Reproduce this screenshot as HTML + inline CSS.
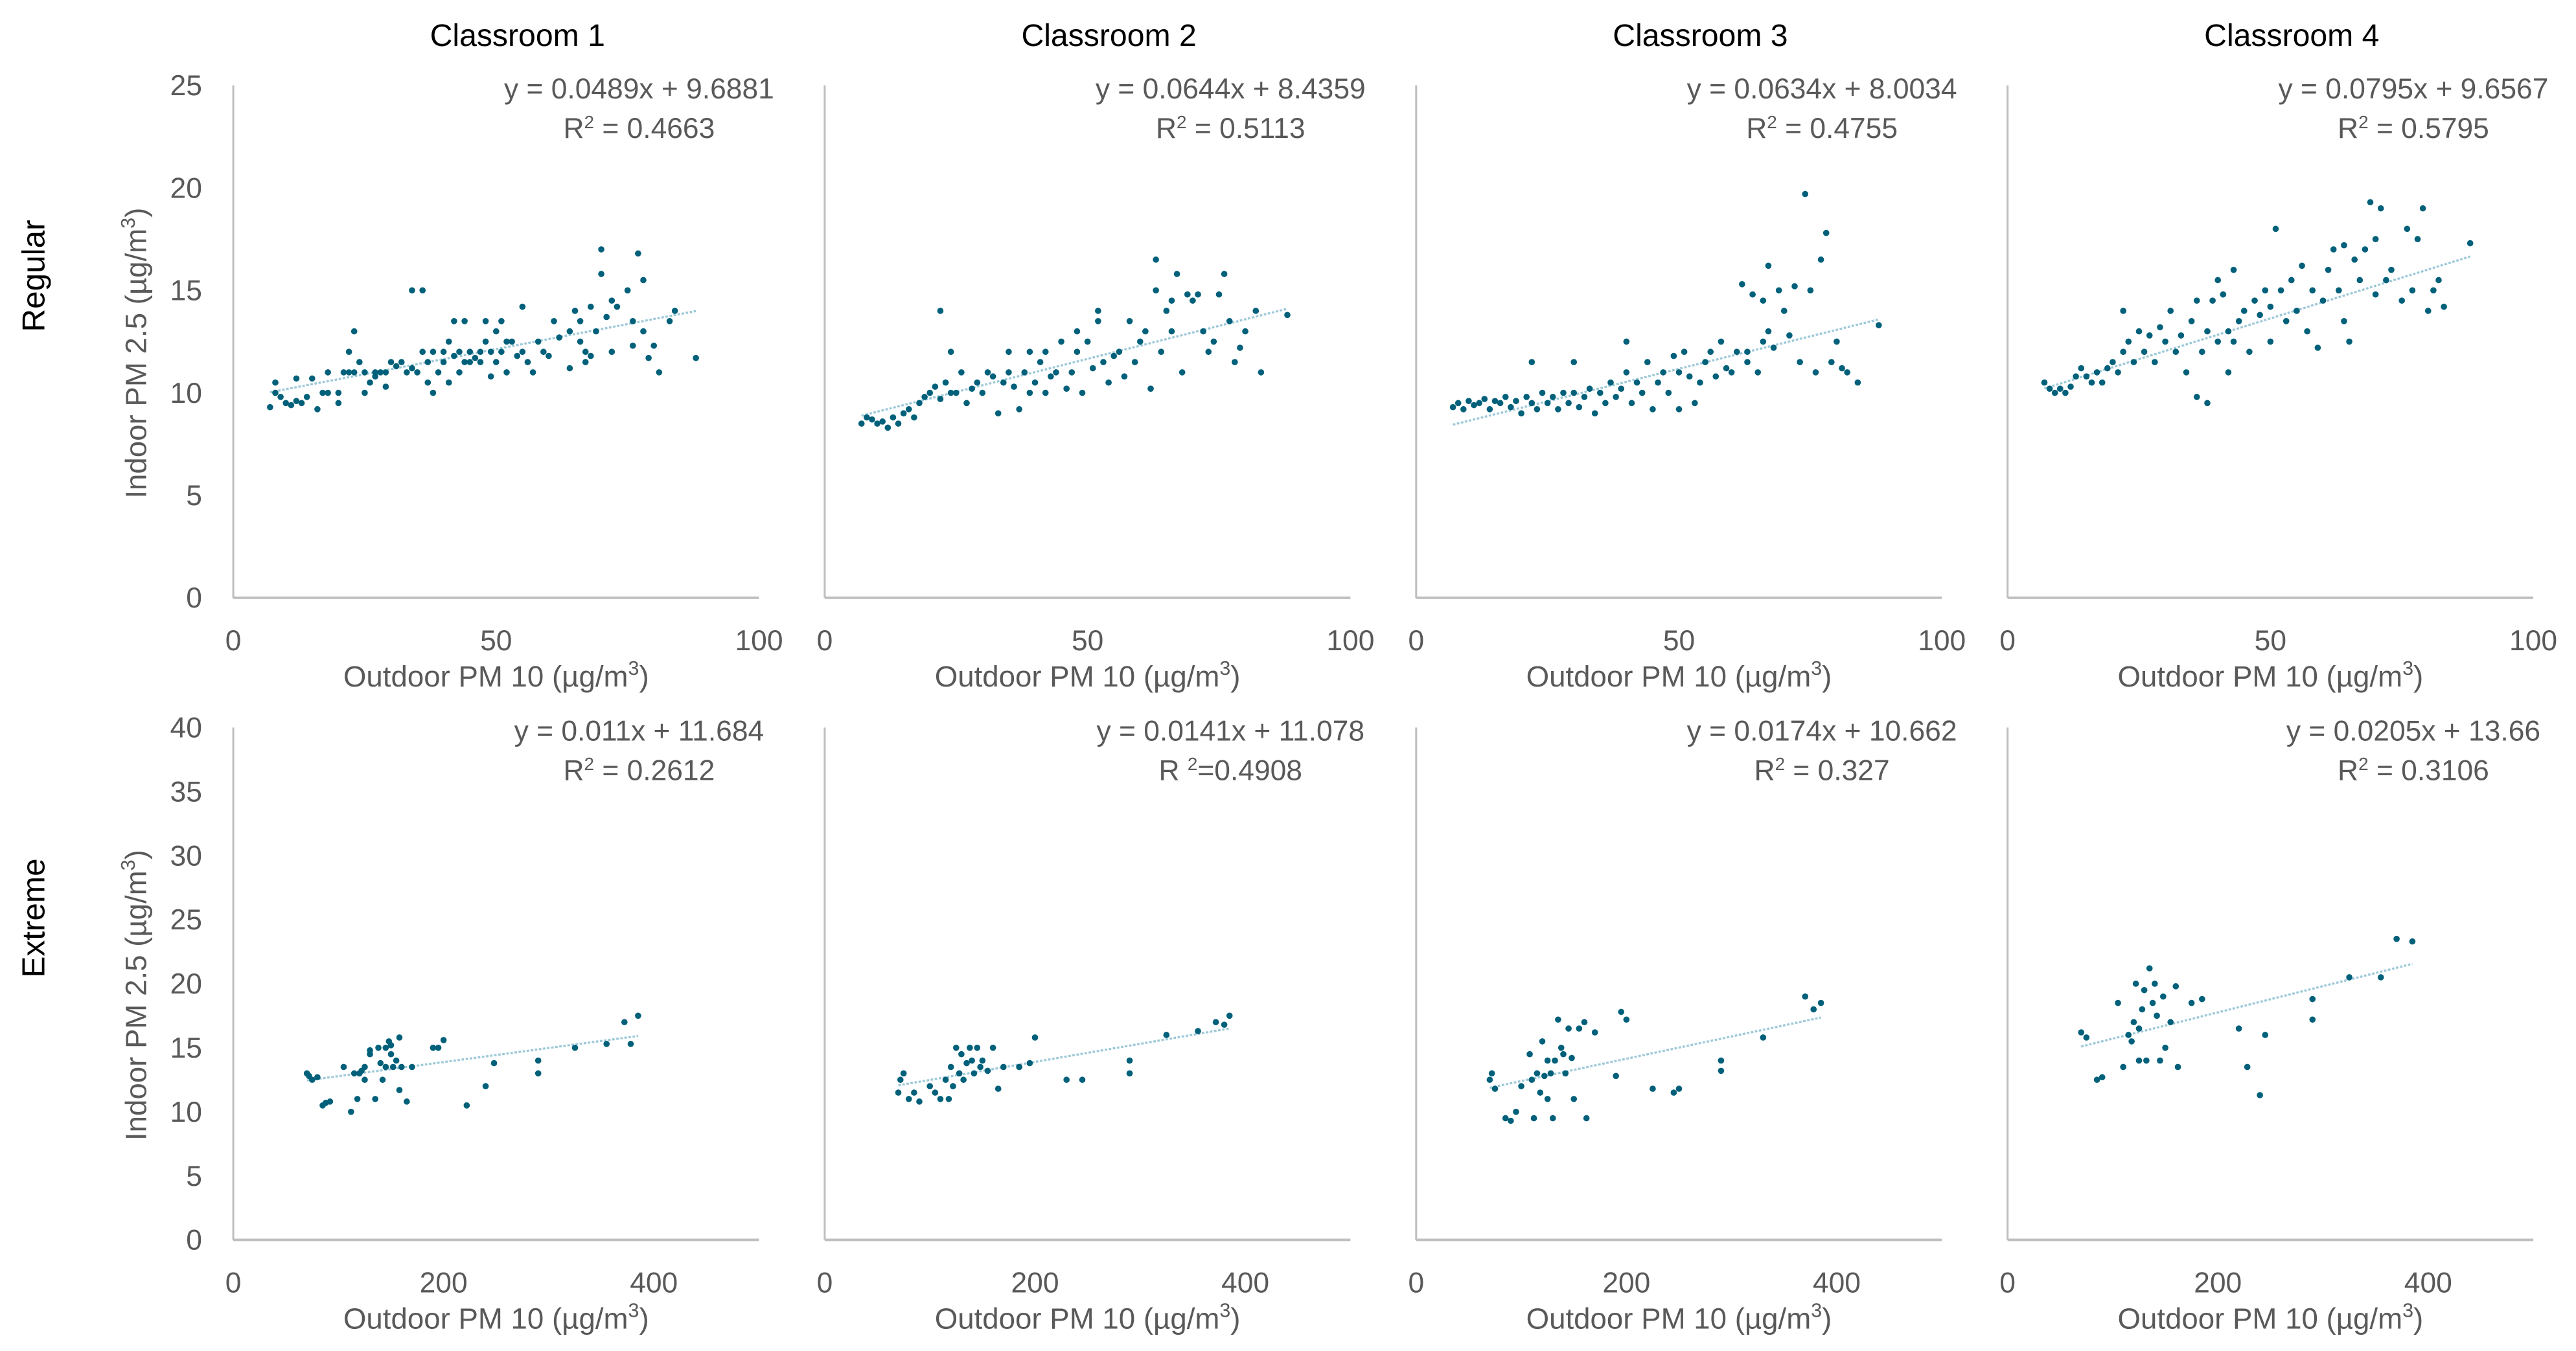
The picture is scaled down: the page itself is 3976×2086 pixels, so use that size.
<!DOCTYPE html>
<html><head><meta charset="utf-8"><style>
html,body{margin:0;padding:0;background:#fff;}
svg{display:block;}
text{font-family:"Liberation Sans",sans-serif;}
</style></head><body>
<svg id="chart" xmlns="http://www.w3.org/2000/svg" width="3976" height="2086" viewBox="0 0 1568 822.65">
<rect width="1568" height="822.65" fill="#fff"/>
<g id="layer"></g>
</svg>
<script>
const classrooms = ["Classroom 1","Classroom 2","Classroom 3","Classroom 4"];
const rowLabels = ["Regular","Extreme"];
const regYTicks = [0,5,10,15,20,25];
const extYTicks = [0,5,10,15,20,25,30,35,40];
const regXTicks = [0,50,100];
const extXTicks = [0,200,400];
const regSlope = [0.0489,0.0644,0.0634,0.0795];
const regIntercept = [9.6881,8.4359,8.0034,9.6567];
const extSlope = [0.011,0.0141,0.0174,0.0205];
const extIntercept = [11.684,11.078,10.662,13.66];
const regEq = ["y = 0.0489x + 9.6881","y = 0.0644x + 8.4359","y = 0.0634x + 8.0034","y = 0.0795x + 9.6567"];
const regR2 = ["0.4663","0.5113","0.4755","0.5795"];
const extEq = ["y = 0.011x + 11.684","y = 0.0141x + 11.078","y = 0.0174x + 10.662","y = 0.0205x + 13.66"];
const extR2 = ["0.2612","0.4908","0.327","0.3106"];

const c1Regular = [[7,9.3],[8,10.5],[8,10],[9,9.8],[10,9.5],[11,9.4],[12,9.6],[12,10.7],[13,9.5],[14,9.8],[15,10.7],[16,9.2],[17,10],[18,10],[18,11],[20,9.5],[20,10],[21,11],[22,12],[22,11],[23,11],[23,13],[24,11.5],[25,10],[25,11],[26,10.5],[27,11],[27,10.8],[28,11],[29,10.3],[29,11],[30,11.5],[31,11.3],[32,11.5],[33,11],[34,11.2],[34,15],[35,11],[36,15],[36,12],[37,10.5],[37,11.5],[38,12],[38,10],[39,11],[40,12],[40,11.5],[41,12.5],[41,10.5],[42,13.5],[42,11.8],[43,12],[43,11],[44,13.5],[44,11.5],[45,12],[45,11.5],[46,11.7],[47,12],[47,11.5],[48,12.5],[48,13.5],[49,12],[49,10.8],[50,13],[50,11.5],[51,13.5],[51,12],[52,11],[52,12.5],[53,12.5],[54,11.8],[55,14.2],[55,12],[56,11.5],[57,11],[58,12.5],[59,12],[60,11.8],[61,13.5],[62,12.7],[64,11.2],[64,13],[65,14],[66,12.5],[66,13.5],[67,11.5],[67,12],[68,14.2],[68,11.8],[69,13],[70,17],[70,15.8],[71,13.7],[72,14.5],[72,12],[73,14.2],[75,15],[76,13.5],[76,12.3],[77,16.8],[78,13],[78,15.5],[79,11.7],[80,12.3],[81,11],[83,13.5],[84,14],[88,11.7]];
const c2Regular = [[7,8.5],[8,8.8],[9,8.7],[10,8.5],[11,8.6],[12,8.3],[13,8.8],[14,8.5],[15,9],[16,9.2],[17,8.8],[18,9.5],[19,9.8],[20,10],[21,10.3],[22,14],[22,9.7],[23,10.5],[24,12],[24,10],[25,10],[26,11],[27,9.5],[28,10.2],[29,10.5],[30,10],[31,11],[32,10.8],[33,9],[34,10.5],[35,12],[35,11],[36,10.3],[37,9.2],[38,11],[39,12],[39,10],[40,10.5],[41,11.5],[42,12],[42,10],[43,10.8],[44,11],[45,12.5],[46,10.2],[47,11],[48,13],[48,12],[49,10],[50,12.5],[51,11.2],[52,14],[52,13.5],[53,11.5],[54,10.5],[55,11.8],[56,12],[57,10.8],[58,13.5],[59,11.5],[60,12.5],[61,13],[62,10.2],[63,16.5],[63,15],[64,12],[65,14],[66,13],[66,14.5],[67,15.8],[68,11],[69,14.8],[70,14.5],[71,14.8],[72,13],[73,12],[74,12.5],[75,14.8],[76,15.8],[77,13.5],[78,11.5],[79,12.2],[80,13],[82,14],[83,11],[88,13.8]];
const c3Regular = [[7,9.3],[8,9.5],[9,9.2],[10,9.6],[11,9.4],[12,9.5],[13,9.7],[14,9.2],[15,9.6],[16,9.5],[17,9.8],[18,9.3],[19,9.6],[20,9],[21,9.8],[22,9.5],[22,11.5],[23,9.2],[24,10],[25,9.5],[26,9.8],[27,9.2],[28,10],[29,9.5],[30,11.5],[30,10],[31,9.3],[32,9.8],[33,10.2],[34,9],[35,10],[36,9.5],[37,10.5],[38,9.8],[39,10.2],[40,12.5],[40,11],[41,9.5],[42,10.5],[43,10],[44,11.5],[45,9.2],[46,10.5],[47,11],[48,10],[49,11.8],[50,9.2],[50,11],[51,12],[52,10.8],[53,9.5],[54,10.5],[55,11.5],[56,12],[57,10.8],[58,12.5],[59,11.2],[60,11],[61,12],[62,15.3],[63,12],[63,11.5],[64,14.8],[65,11],[66,12.5],[66,14.5],[67,16.2],[67,13],[68,12.2],[69,15],[70,14],[71,12.8],[72,15.2],[73,11.5],[74,19.7],[75,15],[76,11],[77,16.5],[78,17.8],[79,11.5],[80,12.5],[81,11.2],[82,11],[84,10.5],[88,13.3]];
const c4Regular = [[7,10.5],[8,10.2],[9,10],[10,10.2],[11,10],[12,10.3],[13,10.8],[14,11.2],[15,10.8],[16,10.5],[17,11],[18,10.5],[19,11.2],[20,11.5],[21,11],[22,14],[22,12],[23,12.5],[24,11.5],[25,13],[26,12],[27,12.8],[28,11.5],[29,13.2],[30,12.5],[31,14],[32,12],[33,12.8],[34,11],[35,13.5],[36,9.8],[36,14.5],[37,12],[38,13],[38,9.5],[39,14.5],[40,15.5],[40,12.5],[41,14.8],[42,13],[42,11],[43,16],[43,12.5],[44,13.5],[45,14],[46,12],[47,14.5],[48,13.8],[49,15],[50,14.2],[50,12.5],[51,18],[52,15],[53,13.5],[54,15.5],[55,14],[56,16.2],[57,13],[58,15],[59,12.2],[60,14.5],[61,16],[62,17],[63,15],[64,17.2],[64,13.5],[65,12.5],[66,16.5],[67,15.5],[68,17],[69,19.3],[70,14.8],[70,17.5],[71,19],[72,15.5],[73,16],[75,14.5],[76,18],[77,15],[78,17.5],[79,19],[80,14],[81,15],[82,15.5],[83,14.2],[88,17.3]];
const c1Extreme = [[70,13],[72,12.8],[75,12.5],[80,12.7],[85,10.5],[88,10.7],[92,10.8],[105,13.5],[112,10],[115,13],[118,11],[120,13],[122,13.2],[125,12.5],[125,13.5],[130,14.5],[130,14.8],[135,11],[138,15],[140,13.8],[142,12.5],[145,15],[145,13.5],[148,15.5],[150,15.2],[150,14.5],[152,13.5],[155,14],[158,15.8],[160,13.5],[158,11.7],[165,10.8],[170,13.5],[190,15],[195,15],[200,15.6],[222,10.5],[240,12],[248,13.8],[290,14],[290,13],[325,15],[355,15.3],[372,17],[378,15.3],[385,17.5]];
const c2Extreme = [[70,11.5],[72,12.5],[75,13],[80,11],[85,11.5],[90,10.8],[100,12],[105,11.5],[110,11],[115,12.5],[118,11],[120,13.5],[122,12],[125,15],[128,13],[130,14.5],[132,12.5],[135,13.8],[138,15],[140,14],[142,13],[145,15],[148,13.5],[150,14],[155,13.2],[160,15],[165,11.8],[170,13.5],[185,13.5],[195,13.8],[200,15.8],[230,12.5],[245,12.5],[290,14],[290,13],[325,16],[355,16.3],[372,17],[380,16.8],[385,17.5]];
const c3Extreme = [[70,12.5],[72,13],[75,11.8],[85,9.5],[90,9.3],[95,10],[100,12],[108,14.5],[110,12.5],[112,9.5],[115,13],[118,11.5],[120,15.5],[122,12.8],[125,11],[125,14],[128,13],[130,9.5],[132,14],[135,17.2],[138,15],[140,14.5],[142,13],[145,16.5],[148,14.2],[150,11],[155,16.5],[160,17],[162,9.5],[170,16.2],[190,12.8],[195,17.8],[200,17.2],[225,11.8],[245,11.5],[250,11.8],[290,14],[290,13.2],[330,15.8],[370,19],[378,18],[385,18.5]];
const c4Extreme = [[70,16.2],[75,15.8],[85,12.5],[90,12.7],[105,18.5],[110,13.5],[115,16],[118,15.5],[120,17],[122,20],[125,14],[125,16.5],[128,18],[130,19.5],[132,14],[135,21.2],[138,18.5],[140,20],[142,17.5],[145,14],[148,19],[150,15],[155,17],[160,19.8],[162,13.5],[175,18.5],[185,18.8],[220,16.5],[228,13.5],[240,11.3],[245,16],[290,17.2],[290,18.8],[325,20.5],[355,20.5],[370,23.5],[385,23.3]];

const NS="http://www.w3.org/2000/svg";
const layer=document.getElementById('layer');
function mk(tag,attrs,parent){const e=document.createElementNS(NS,tag);for(const k in attrs)e.setAttribute(k,attrs[k]);(parent||layer).appendChild(e);return e;}

const panelX=[142,502,862,1222], plotW=320;
const rows=[
 {top:52,bottom:364,ymax:25,xmax:100,yt:regYTicks,xt:regXTicks,data:[c1Regular,c2Regular,c3Regular,c4Regular],s:regSlope,b:regIntercept,eq:regEq,r2:regR2,label:"Regular",eqY:60},
 {top:443,bottom:755,ymax:40,xmax:500,yt:extYTicks,xt:extXTicks,data:[c1Extreme,c2Extreme,c3Extreme,c4Extreme],s:extSlope,b:extIntercept,eq:extEq,r2:extR2,label:"Extreme",eqY:451}
];

classrooms.forEach((c,i)=>{
  const t=mk('text',{x:panelX[i]+173,y:28,'text-anchor':'middle','font-size':19,fill:'#000'});
  
  
  t.textContent=c;
});

rows.forEach((r,ri)=>{
  const rl=mk('text',{x:0,y:0,'text-anchor':'middle','font-size':19.5,fill:'#000',transform:`translate(27,${(r.top+r.bottom)/2-40}) rotate(-90)`});
  
  
  rl.textContent=r.label;
  const yt=mk('text',{x:0,y:0,'text-anchor':'middle','font-size':18,fill:'#595959',transform:`translate(89,${(r.top+r.bottom)/2+7}) rotate(-90)`});
  
  
  yt.innerHTML='Indoor PM 2.5 (µg/m<tspan font-size="12" dy="-7">3</tspan><tspan dy="7">)</tspan>';
  for(let i=0;i<4;i++){
    const x0=panelX[i];
    const sx=v=>x0+v/r.xmax*plotW;
    const sy=v=>r.bottom-v/r.ymax*(r.bottom-r.top);
    const g=mk('g',{});
    
    
    const ya=mk('line',{x1:x0,y1:r.top,x2:x0,y2:r.bottom,stroke:'#bfbfbf','stroke-width':1.2},g);
    
    
    const xa=mk('line',{x1:x0,y1:r.bottom,x2:x0+plotW,y2:r.bottom,stroke:'#bfbfbf','stroke-width':1.5},g);
    
    
    if(i===0){
      r.yt.forEach(v=>{
        const t=mk('text',{x:x0-19,y:sy(v)+6,'text-anchor':'end','font-size':17.5,fill:'#595959'},g);
        
        
        t.textContent=v;
      });
    }
    r.xt.forEach(v=>{
      const t=mk('text',{x:sx(v),y:r.bottom+32,'text-anchor':'middle','font-size':17.5,fill:'#595959'},g);
      
      
      t.textContent=v;
    });
    const xt=mk('text',{x:x0+160,y:r.bottom+54,'text-anchor':'middle','font-size':18,fill:'#595959'},g);
    
    
    xt.innerHTML='Outdoor PM 10 (µg/m<tspan font-size="12" dy="-7">3</tspan><tspan dy="7">)</tspan>';
    const d=r.data[i];
    const xs=d.map(p=>p[0]);
    const xmin=Math.min(...xs), xmx=Math.max(...xs);
    const tl=mk('line',{x1:sx(xmin),y1:sy(r.s[i]*xmin+r.b[i]),x2:sx(xmx),y2:sy(r.s[i]*xmx+r.b[i]),stroke:'#9cc8d8','stroke-width':1.3,'stroke-dasharray':'1.5 1'},g);
    
    
    d.forEach(p=>{
      const c=mk('circle',{cx:sx(p[0]),cy:sy(p[1]),r:1.9,fill:'#00607a'},g);
      
      
    });
    const e1=mk('text',{x:x0+247,y:r.eqY,'text-anchor':'middle','font-size':17.5,fill:'#595959'},g);
    
    
    e1.textContent=r.eq[i];
    const e2=mk('text',{x:x0+247,y:r.eqY+24,'text-anchor':'middle','font-size':17.5,fill:'#595959'},g);
    
    
    if(ri===1&&i===1) e2.innerHTML='R <tspan font-size="11" dy="-6">2</tspan><tspan dy="6">=</tspan>'+r.r2[i];
    else e2.innerHTML='R<tspan font-size="11" dy="-6">2</tspan><tspan dy="6"> = </tspan>'+r.r2[i];
  }
});
</script>
</body></html>
